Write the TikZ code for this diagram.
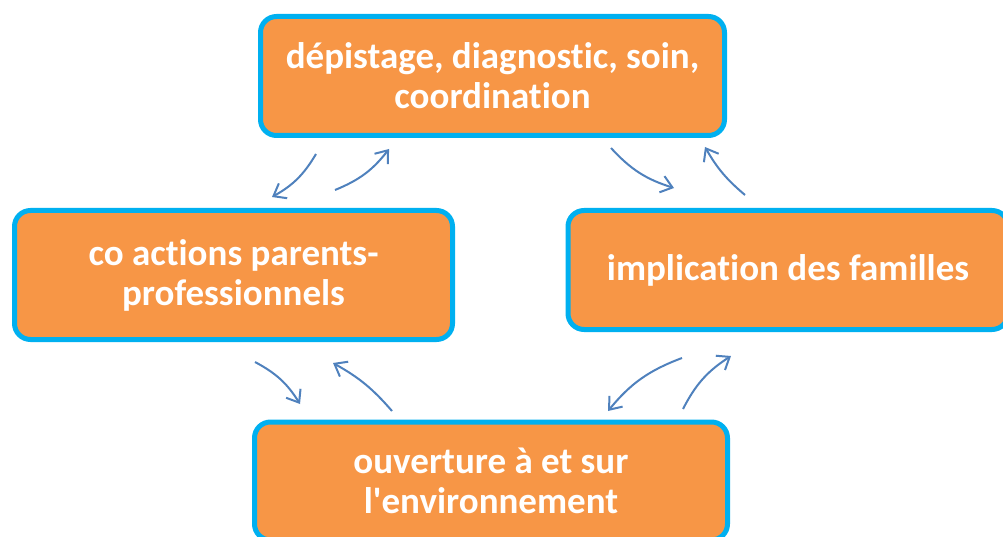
\documentclass[tikz,border=0pt]{standalone}
\usepackage{fontspec}
\newfontfamily\boxfont{Carlito}[Ligatures=NoCommon]
\usetikzlibrary{arrows.meta}
\tikzset{>=latex}
\definecolor{boxfill}{HTML}{F79646}
\definecolor{boxline}{HTML}{00B0F0}
\definecolor{arrowblue}{HTML}{4F81BD}
\tikzset{
  stagebox/.style={draw=boxline, fill=boxfill, line width=5pt, rounded corners=16pt,
    text=white, align=center, font=\boxfont\fontsize{37}{40}\selectfont\bfseries, inner sep=0pt},
  cyclearrow/.style={draw=arrowblue, line width=2pt, -{Straight Barb[length=11pt,width=17pt]}}
}
\begin{document}
\begin{tikzpicture}[x=1pt,y=-1pt]
\useasboundingbox (0,0) rectangle (1003,537);
\begin{scope}
\clip (0,0) rectangle (1003,537);
\node[stagebox, minimum width=464pt, minimum height=119pt] (care) at (492.5,76) {dépistage, diagnostic, soin,\\coordination};
\node[stagebox, minimum width=438pt, minimum height=129pt] (coact) at (233.5,275) {co actions parents-\\professionnels};
\node[stagebox, minimum width=440pt, minimum height=119pt] (family) at (788,270) {implication des familles};
\node[stagebox, minimum width=473pt, minimum height=118pt] (open) at (491,481) {ouverture à et sur\\l'environnement};
\end{scope}
% arrow ends
\coordinate (a1s) at (316,154); \coordinate (a1e) at (272,197);
\coordinate (a2s) at (335,190); \coordinate (a2e) at (389,149);
\coordinate (b1s) at (611,148); \coordinate (b1e) at (674,188);
\coordinate (b2s) at (745,195); \coordinate (b2e) at (705,147);
\coordinate (c1s) at (255,362); \coordinate (c1e) at (300,404);
\coordinate (c2s) at (392,411); \coordinate (c2e) at (333,363);
\coordinate (d1s) at (682,358); \coordinate (d1e) at (608,411);
\coordinate (d2s) at (683,409); \coordinate (d2e) at (731,356);
\draw[cyclearrow] (a1s) to[bend left=15] (a1e);
\draw[cyclearrow] (a2s) to[bend right=15] (a2e);
\draw[cyclearrow] (b1s) to[bend right=15] (b1e);
\draw[cyclearrow] (b2s) to[bend left=10] (b2e);
\draw[cyclearrow] (c1s) to[bend left=15] (c1e);
\draw[cyclearrow] (c2s) to[bend right=10] (c2e);
\draw[cyclearrow] (d1s) to[bend right=15] (d1e);
\draw[cyclearrow] (d2s) to[bend left=15] (d2e);
\end{tikzpicture}
\end{document}
